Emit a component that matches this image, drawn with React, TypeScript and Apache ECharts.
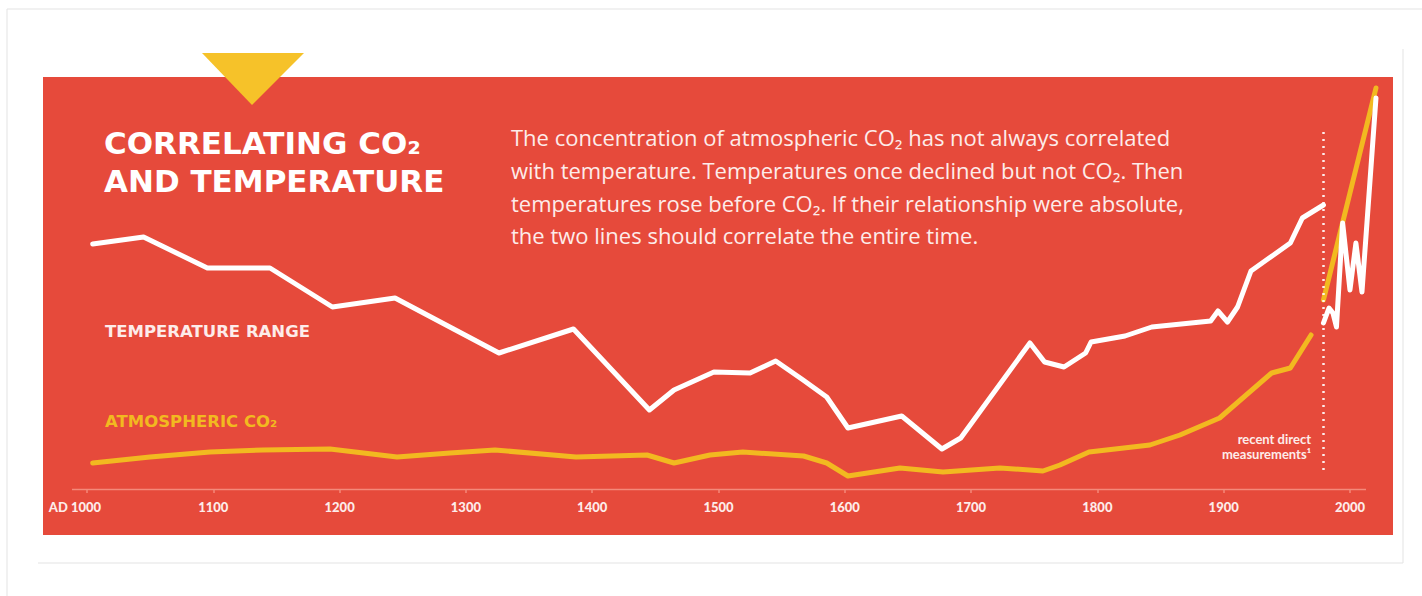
import React, { useEffect, useRef } from "react";
import * as echarts from "echarts";

// Temperature range (relative units), by year
const tempYears = [1004.5, 1044.8, 1095.3, 1144.9, 1194.3, 1243.9, 1326.2, 1385.2, 1445.3, 1464.8, 1496.4, 1525, 1545.3, 1567, 1585.7, 1602.5, 1645.1, 1676.9, 1691.8, 1746.6, 1758.2, 1773.6, 1790.7, 1795, 1821.9, 1843.1, 1889.7, 1895.5, 1903, 1911, 1921.6, 1952.8, 1962.3, 1979];
const tempValues = [245, 252, 221, 221, 182, 191, 136, 160, 79, 99, 117, 116, 128, 109, 92, 61, 73, 40, 51, 146, 127, 122, 136, 147, 153, 162, 168, 178, 167, 182, 218, 246, 271, 284];
// Recent direct measurements of temperature
const tempRecentYears = [1979, 1983.4, 1986.5, 1989.3, 1994.2, 2000, 2004.7, 2009.5, 2020.6];
const tempRecentValues = [166, 181, 176, 162, 266, 199, 246, 197, 391];
// Atmospheric CO2 (relative units), by year
const co2Years = [1004.5, 1049.9, 1097.4, 1139.4, 1192.4, 1245.5, 1287.4, 1323, 1387.2, 1443.4, 1464.8, 1493.3, 1519.3, 1567.4, 1585.7, 1602.5, 1643.7, 1677.8, 1722.9, 1756.9, 1770.4, 1793.4, 1841.6, 1865.4, 1896.8, 1938, 1952.8, 1969.2];
const co2Values = [26, 32, 37, 39, 40, 32, 36, 39, 32, 34, 26, 34, 37, 33, 26, 13, 21, 17, 21, 18, 24, 37, 44, 54, 71, 116, 121, 154];
// Recent direct measurements of CO2
const co2RecentYears = [1979, 2020.6];
const co2RecentValues = [189, 401];
// Axis ticks
const tickYears = [1000, 1100, 1200, 1300, 1400, 1500, 1600, 1700, 1800, 1900, 2000];
const recentYear = 1979;
const recentSpan = [19, 362];

const zip = (xs: number[], ys: number[]) => xs.map((x, i) => [x, ys[i]]);

const RED = "#e64a3b";
const YELLOW = "#f2b920";
const WHITE = "#ffffff";
const PINKWHITE = "#fdecea";
const AXIS = "#f4897a";

export default function App() {
  const ref = useRef<HTMLDivElement>(null);
  useEffect(() => {
    if (!ref.current) return;
    const chart = echarts.init(ref.current, null, { renderer: "svg" });
    const lineStyleW = { color: WHITE, width: 5, join: "round" as const, cap: "round" as const };
    const lineStyleY = { color: YELLOW, width: 5, join: "round" as const, cap: "round" as const };
    chart.setOption({
      animation: false,
      backgroundColor: "#ffffff",
      grid: { left: 70, top: 77, width: 1320, height: 412 },
      xAxis: {
        type: "value",
        min: 986.54,
        max: 2031.7,
        splitLine: { show: false },
        axisLine: { show: false },
        axisTick: { show: true, length: 4, customValues: tickYears, lineStyle: { color: AXIS, width: 1.5 } },
        axisLabel: {
          customValues: tickYears,
          margin: 11,
          color: PINKWHITE,
          fontFamily: "Lato",
          fontWeight: 900,
          fontSize: 13,
          formatter: (v: number) => (v === 1000 ? "{ad|AD 1000}" : String(v)),
          rich: {
            ad: { padding: [0, 24, 0, 0], color: PINKWHITE, fontFamily: "Lato", fontWeight: 900, fontSize: 13 },
          },
        },
      },
      yAxis: { type: "value", min: 0, max: 412, show: false, splitLine: { show: false } },
      graphic: [
        { type: "line", shape: { x1: 7, y1: 9, x2: 1422, y2: 9 }, style: { stroke: "#e3e3e3", lineWidth: 1 }, z: -10 },
        { type: "line", shape: { x1: 7, y1: 9, x2: 7, y2: 596 }, style: { stroke: "#e3e3e3", lineWidth: 1 }, z: -10 },
        { type: "line", shape: { x1: 1403, y1: 49, x2: 1403, y2: 563 }, style: { stroke: "#e3e3e3", lineWidth: 1 }, z: -10 },
        { type: "line", shape: { x1: 38, y1: 563, x2: 1403, y2: 563 }, style: { stroke: "#e3e3e3", lineWidth: 1 }, z: -10 },
        { type: "rect", shape: { x: 43, y: 77, width: 1350, height: 458 }, style: { fill: RED }, z: -5 },
        { type: "line", shape: { x1: 72, y1: 489.5, x2: 1366, y2: 489.5 }, style: { stroke: AXIS, lineWidth: 1.5 }, z: 1 },
        { type: "polygon", shape: { points: [[202, 53], [304, 53], [252, 105]] }, style: { fill: "#f6c229" }, z: 1 },
        {
          type: "text", x: 104, y: 143, z: 5,
          style: { text: "CORRELATING CO₂", fill: WHITE, font: "bold 31px 'DejaVu Sans'", lineHeight: 34, verticalAlign: "middle" },
        },
        {
          type: "text", x: 104, y: 181, z: 5,
          style: { text: "AND TEMPERATURE", fill: WHITE, font: "bold 31px 'DejaVu Sans'", lineHeight: 34, verticalAlign: "middle" },
        },
        {
          type: "text", x: 511, y: 121, z: 5,
          style: {
            text: "The concentration of atmospheric CO₂ has not always correlated\nwith temperature. Temperatures once declined but not CO₂. Then\ntemperatures rose before CO₂. If their relationship were absolute,\nthe two lines should correlate the entire time.",
            fill: PINKWHITE, font: "22px 'Open Sans'", lineHeight: 32.7,
          },
        },
        {
          type: "text", x: 105, y: 331, z: 5,
          style: { text: "TEMPERATURE RANGE", fill: PINKWHITE, font: "bold 16.5px 'DejaVu Sans'", verticalAlign: "middle" },
        },
        {
          type: "text", x: 105, y: 421, z: 5,
          style: { text: "ATMOSPHERIC CO₂", fill: YELLOW, font: "bold 16.5px 'DejaVu Sans'", verticalAlign: "middle" },
        },
        {
          type: "text", x: 1311, y: 431, z: 5,
          style: {
            text: "recent direct\nmeasurements¹",
            fill: PINKWHITE, font: "bold 13px Lato", align: "right", lineHeight: 15,
          },
        },
      ],
      series: [
        {
          type: "line", name: "Atmospheric CO₂", data: zip(co2Years, co2Values),
          showSymbol: false, symbol: "none", lineStyle: lineStyleY, clip: false, z: 3,
        },
        {
          type: "line", name: "Atmospheric CO₂ (recent)", data: zip(co2RecentYears, co2RecentValues),
          showSymbol: false, symbol: "none", lineStyle: lineStyleY, clip: false, z: 3,
        },
        {
          type: "line", name: "Temperature range", data: zip(tempYears, tempValues),
          showSymbol: false, symbol: "none", lineStyle: lineStyleW, clip: false, z: 4,
          markLine: {
            symbol: "none", silent: true, label: { show: false },
            lineStyle: { color: WHITE, type: [2, 5], width: 2.5, opacity: 0.9 },
            data: [[{ coord: [recentYear, recentSpan[0]] }, { coord: [recentYear, recentSpan[1]] }]],
          },
        },
        {
          type: "line", name: "Temperature range (recent)", data: zip(tempRecentYears, tempRecentValues),
          showSymbol: false, symbol: "none", lineStyle: lineStyleW, clip: false, z: 4,
        },
      ],
    });
    return () => chart.dispose();
  }, []);
  return <div ref={ref} style={{ position: "absolute", left: 0, top: 0, width: 1422, height: 596 }} />;
}
